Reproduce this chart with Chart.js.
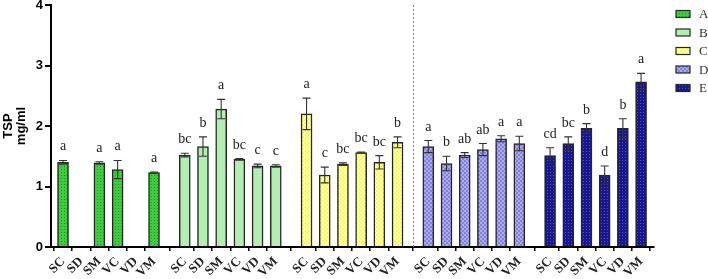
<!DOCTYPE html>
<html>
<head>
<meta charset="utf-8">
<script src="https://cdn.jsdelivr.net/npm/chart.js@4"></script>
<style>
html, body { margin: 0; padding: 0; background: #fff; }
</style>
</head>
<body>
<canvas id="tsp-chart" width="708" height="279"></canvas>
<script>
// categories
const treatments = ['SC', 'SD', 'SM', 'VC', 'VD', 'VM'];
const groups = ['A', 'B', 'C', 'D', 'E'];

// TSP (mg/ml) per group, in treatment order (null = no bar)
const tspA = [1.40, null, 1.39, 1.28, null, 1.23];
const tspB = [1.52, 1.66, 2.28, 1.45, 1.34, 1.34];
const tspC = [2.20, 1.19, 1.37, 1.56, 1.40, 1.73];
const tspD = [1.66, 1.38, 1.52, 1.61, 1.79, 1.71];
const tspE = [1.51, 1.71, 1.96, 1.19, 1.96, 2.73];

// error bars (+/-)
const errA = [0.03, null, 0.02, 0.15, null, 0.01];
const errB = [0.03, 0.16, 0.16, 0.01, 0.03, 0.02];
const errC = [0.26, 0.13, 0.02, 0.01, 0.11, 0.09];
const errD = [0.10, 0.12, 0.04, 0.10, 0.05, 0.12];
const errE = [0.13, 0.11, 0.08, 0.15, 0.16, 0.14];

// significance letters
const letA = ['a', '', 'a', 'a', '', 'a'];
const letB = ['bc', 'b', 'a', 'bc', 'c', 'c'];
const letC = ['a', 'c', 'bc', 'bc', 'bc', 'b'];
const letD = ['a', 'b', 'ab', 'ab', 'a', 'a'];
const letE = ['cd', 'bc', 'b', 'd', 'b', 'a'];

const yTicks = [0, 1, 2, 3, 4];

// groups sit a bit further apart than bars inside a group
const groupStep = treatments.length + 0.69;
function pos(g, i) { return g * groupStep + i; }

// fill patterns
function makePattern(size, base, dot, cells) {
    const c = document.createElement('canvas');
    c.width = size; c.height = size;
    const cx = c.getContext('2d');
    cx.fillStyle = base;
    cx.fillRect(0, 0, size, size);
    cx.fillStyle = dot;
    cells.forEach(([x, y, w, h]) => cx.fillRect(x, y, w, h));
    return cx.createPattern(c, 'repeat');
}

const fills = [
    makePattern(3, '#3dcc3d', '#1f9a1f', [[1, 1, 1, 1]]),
    '#b2eeb2',
    makePattern(4, '#ffff3a', '#ffffd8', [[0, 0, 2, 2], [2, 2, 2, 2]]),
    makePattern(4, '#aaaaf2', '#8484d6', [[0, 0, 2, 2], [2, 2, 2, 2]]),
    makePattern(3, '#17178f', '#4d4dc4', [[1, 1, 1, 1]]),
];

const allVals = [tspA, tspB, tspC, tspD, tspE];
const allErr = [errA, errB, errC, errD, errE];
const allLet = [letA, letB, letC, letD, letE];

const datasets = groups.map((name, g) => ({
    label: name,
    data: allVals[g].map((v, i) => ({ x: pos(g, i), y: v })),
    err: allErr[g],
    letters: allLet[g],
    backgroundColor: fills[g],
    borderColor: '#262626',
    borderWidth: 1.5,
    grouped: false,
    barThickness: 11,
}));

const tickPositions = [];
groups.forEach((n, g) => treatments.forEach((t, i) => tickPositions.push(pos(g, i))));

// error bars + letters
const errorBars = {
    id: 'errorBars',
    afterDatasetsDraw(chart) {
        const ctx = chart.ctx;
        const ys = chart.scales.y;
        ctx.save();
        chart.data.datasets.forEach((ds, d) => {
            const meta = chart.getDatasetMeta(d);
            meta.data.forEach((bar, i) => {
                const v = ds.data[i].y;
                if (v == null) return;
                const e = ds.err[i] || 0;
                const top = ys.getPixelForValue(v + e);
                const bot = ys.getPixelForValue(v - e);
                ctx.strokeStyle = '#333';
                ctx.lineWidth = 1.1;
                ctx.beginPath();
                ctx.moveTo(bar.x, top); ctx.lineTo(bar.x, bot);
                ctx.moveTo(bar.x - 4, top); ctx.lineTo(bar.x + 4, top);
                ctx.moveTo(bar.x - 4, bot); ctx.lineTo(bar.x + 4, bot);
                ctx.stroke();
                ctx.fillStyle = '#222';
                ctx.font = '14px "Liberation Serif"';
                ctx.textAlign = 'center';
                ctx.textBaseline = 'alphabetic';
                ctx.fillText(ds.letters[i], bar.x, top - 10);
            });
        });
        ctx.restore();
    }
};

// dotted divider between C and D
const divider = {
    id: 'divider',
    beforeDatasetsDraw(chart) {
        const ctx = chart.ctx;
        const xs = chart.scales.x;
        const x = Math.round(xs.getPixelForValue((pos(2, 5) + pos(3, 0)) / 2)) + 0.5;
        ctx.save();
        ctx.strokeStyle = '#808080';
        ctx.lineWidth = 1;
        ctx.setLineDash([2, 2]);
        ctx.beginPath();
        ctx.moveTo(x, chart.chartArea.top);
        ctx.lineTo(x, chart.chartArea.bottom);
        ctx.stroke();
        ctx.restore();
    }
};

// legend on the right
const sideLegend = {
    id: 'sideLegend',
    afterDraw(chart) {
        const ctx = chart.ctx;
        ctx.save();
        chart.data.datasets.forEach((ds, i) => {
            const y = 14 + i * 18.5;
            ctx.fillStyle = ds.backgroundColor;
            ctx.fillRect(676, y - 3.5, 14, 7);
            ctx.strokeStyle = '#262626';
            ctx.lineWidth = 1.2;
            ctx.strokeRect(676, y - 3.5, 14, 7);
            ctx.fillStyle = '#333';
            ctx.font = '13px "Liberation Serif"';
            ctx.textAlign = 'left';
            ctx.textBaseline = 'middle';
            ctx.fillText(ds.label, 699, y + 1);
        });
        ctx.restore();
    }
};

new Chart(document.getElementById('tsp-chart'), {
    type: 'bar',
    data: { datasets: datasets },
    options: {
        responsive: false,
        animation: false,
        layout: { padding: { top: 0, right: 54, left: 0, bottom: 0 } },
        plugins: {
            legend: { display: false },
            tooltip: { enabled: false },
        },
        scales: {
            x: {
                type: 'linear',
                offset: false,
                min: -0.66,
                max: 32.47,
                afterBuildTicks: (scale) => { scale.ticks = tickPositions.map(v => ({ value: v })); },
                afterFit: (scale) => { scale.height = 32; },
                grid: { drawOnChartArea: false, tickLength: 4, color: '#000', lineWidth: 1.5 },
                border: { display: true, color: '#000', width: 2 },
                ticks: {
                    autoSkip: false,
                    maxRotation: 45,
                    minRotation: 45,
                    padding: 3,
                    color: '#222',
                    font: { family: 'Liberation Serif', size: 13, weight: 'bold' },
                    callback: (v, i) => treatments[i % treatments.length],
                },
            },
            y: {
                min: 0,
                max: 4,
                afterBuildTicks: (scale) => { scale.ticks = yTicks.map(v => ({ value: v })); },
                afterFit: (scale) => { scale.width = 51; scale.paddingTop = 5; },
                grid: { drawOnChartArea: false, tickLength: 6, color: '#000', lineWidth: 2 },
                border: { display: true, color: '#000', width: 2 },
                ticks: {
                    padding: 2,
                    color: '#000',
                    font: { family: 'Liberation Sans', size: 13, weight: 'bold' },
                },
                title: {
                    display: true,
                    text: ['TSP', 'mg/ml'],
                    color: '#000',
                    padding: { top: 2, bottom: 0 },
                    font: { family: 'Liberation Sans', size: 13, weight: 'bold', lineHeight: 1 },
                },
            },
        },
    },
    plugins: [divider, errorBars, sideLegend],
});
</script>
</body>
</html>
